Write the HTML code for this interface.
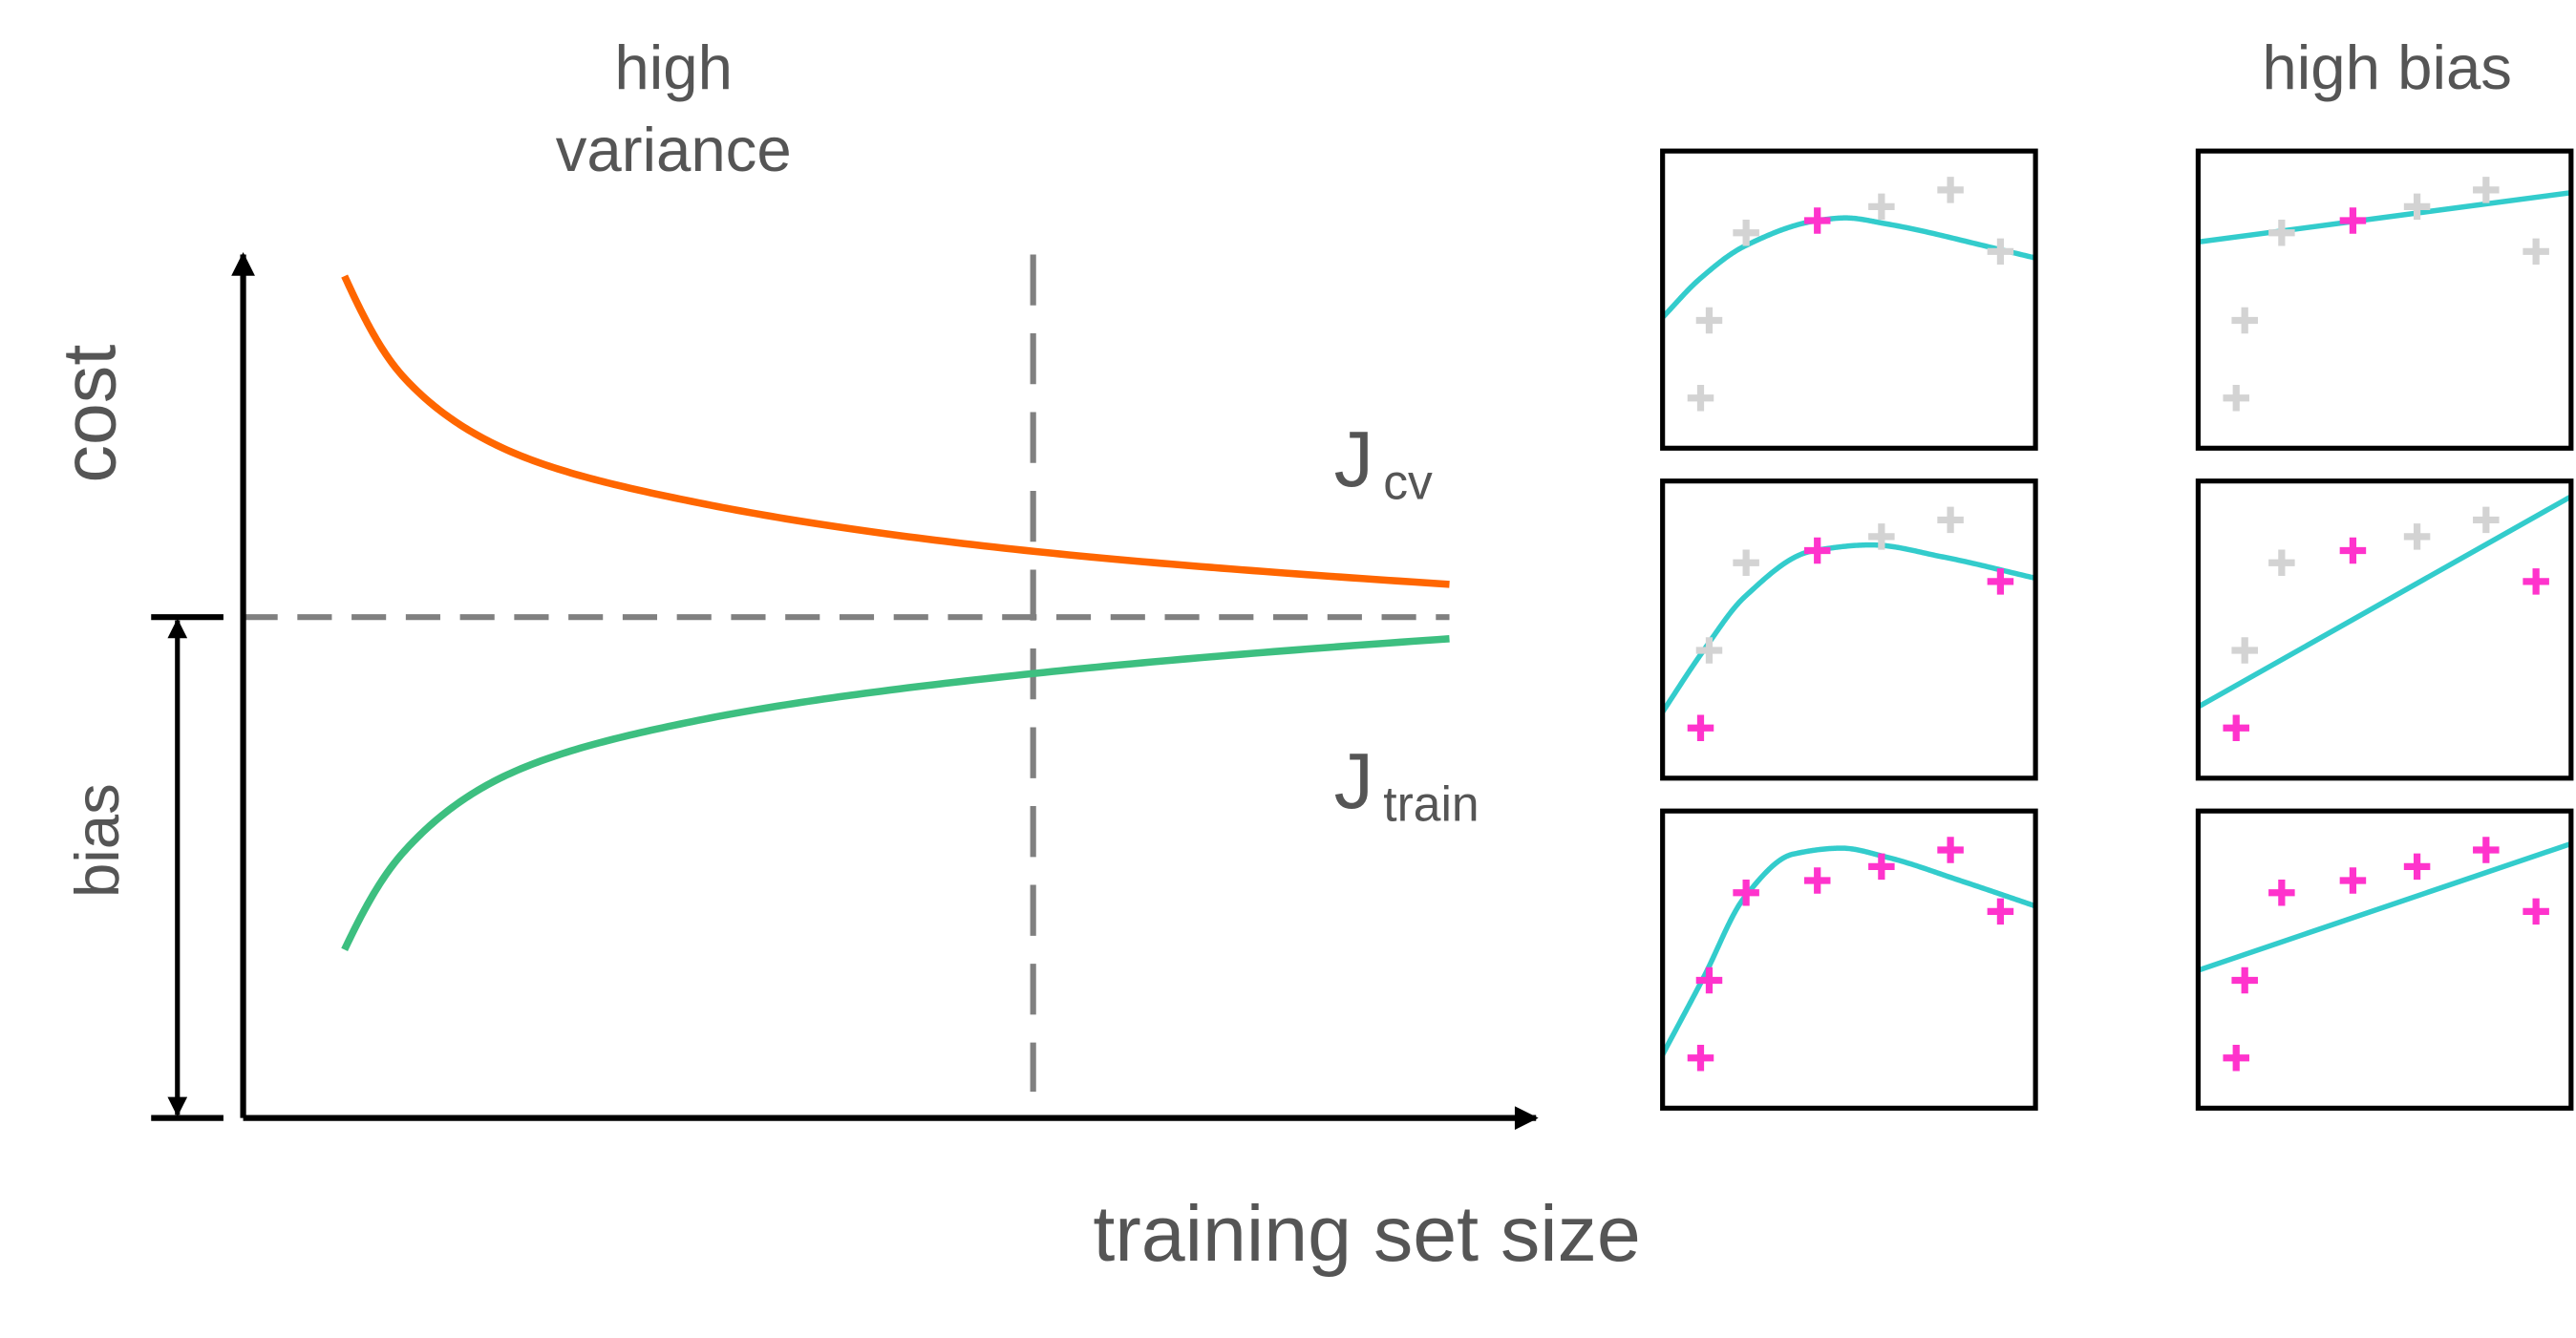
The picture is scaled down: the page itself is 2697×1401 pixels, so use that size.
<!DOCTYPE html>
<html><head><meta charset="utf-8"><style>
html,body{margin:0;padding:0;background:#fff;}
svg{display:block;}
text{font-family:"Liberation Sans",sans-serif;fill:#555;}
</style></head><body>
<svg id="chart" width="2697" height="1401" viewBox="0 0 1568 815" preserveAspectRatio="none" xmlns="http://www.w3.org/2000/svg">
<defs>
<marker id="ah" viewBox="0 0 10 10" refX="9" refY="5" markerWidth="7" markerHeight="4" orient="auto-start-reverse"><path d="M0,0 L10,5 L0,10 z" fill="#000"/></marker>
</defs>
<g id="main"></g>
<g id="panels"></g>
<text x="410" y="54" font-size="38" text-anchor="middle">high</text>
<text x="410" y="104" font-size="38" text-anchor="middle">variance</text>
<text x="1453" y="54" font-size="38" text-anchor="middle">high bias</text>
<text transform="translate(70,252) rotate(-90)" font-size="46" text-anchor="middle">cost</text>
<text transform="translate(72,512) rotate(-90)" font-size="38" text-anchor="middle">bias</text>
<text x="832" y="768" font-size="48" text-anchor="middle">training set size</text>
<text x="812" y="296" font-size="48">J<tspan font-size="30" dx="6" dy="8">cv</tspan></text>
<text x="812" y="492" font-size="48">J<tspan font-size="30" dx="6" dy="8">train</tspan></text>
</svg>
<script>
const xs = [7.84, 12.35, 20.65, 35.7, 61.3, 93.3];
const cvCost = [97.5, 85.9, 77.2, 71.1, 65.6, 61.8];
const trainCost = [19.5, 30.7, 39.9, 46.2, 51.5, 55.5];
const biasLevel = 58.0;
const cutoffX = 61.1;

const ptX = [0.102, 0.125, 0.224, 0.415, 0.587, 0.772, 0.906];
const ptY = [0.831, 0.570, 0.275, 0.234, 0.187, 0.131, 0.338];
const magentaSets = [[3], [0, 3, 6], [0, 1, 2, 3, 4, 5, 6]];
const polyX = [[0, 0.1, 0.22, 0.415, 0.49, 0.6, 0.9, 1], [0, 0.11, 0.22, 0.4, 0.56, 0.75, 1], [0, 0.11, 0.22, 0.35, 0.48, 0.6, 0.8, 1]];
const polyY = [[0.56, 0.43, 0.32, 0.234, 0.225, 0.245, 0.33, 0.36], [0.777, 0.57, 0.39, 0.236, 0.215, 0.255, 0.327], [0.82, 0.56, 0.29, 0.145, 0.125, 0.155, 0.235, 0.32]];
const linStart = [0.306, 0.76, 0.536];
const linEnd = [0.14, 0.052, 0.11];

const NS = "http://www.w3.org/2000/svg";
const X0 = 148, X1 = 935, Y0 = 681, Y1 = 155;
const sx = v => X0 + v * (X1 - X0) / 100;
const sy = v => Y0 - v * (Y0 - Y1) / 100;
function mk(tag, attrs, parent) { const e = document.createElementNS(NS, tag); for (const k in attrs) e.setAttribute(k, attrs[k]); parent.appendChild(e); return e; }
// monotone cubic interpolation in a transformed x space (tf / inverse itf)
function monoPath(Xraw, Y, fx, fy, tf, itf) {
  tf = tf || (v => v); itf = itf || (v => v);
  const X = Xraw.map(tf);
  const n = X.length, d = [], m = new Array(n);
  for (let i = 0; i < n - 1; i++) d.push((Y[i + 1] - Y[i]) / (X[i + 1] - X[i]));
  m[0] = d[0]; m[n - 1] = d[n - 2];
  for (let i = 1; i < n - 1; i++) {
    if (d[i - 1] * d[i] <= 0) m[i] = 0;
    else { const h0 = X[i] - X[i - 1], h1 = X[i + 1] - X[i]; const w1 = 2 * h1 + h0, w2 = h1 + 2 * h0; m[i] = (w1 + w2) / (w1 / d[i - 1] + w2 / d[i]); }
  }
  let s = "";
  for (let i = 0; i < n - 1; i++) {
    const h = X[i + 1] - X[i];
    for (let k = 0; k <= 40; k++) {
      if (i > 0 && k === 0) continue;
      const t = k / 40, t2 = t * t, t3 = t2 * t;
      const y = (2 * t3 - 3 * t2 + 1) * Y[i] + (t3 - 2 * t2 + t) * h * m[i] + (-2 * t3 + 3 * t2) * Y[i + 1] + (t3 - t2) * h * m[i + 1];
      const x = itf(X[i] + t * h);
      s += (s ? " L" : "M") + fx(x).toFixed(2) + "," + fy(y).toFixed(2);
    }
  }
  return s;
}
const main = document.getElementById("main");
let e;
e = mk("line", {x1: sx(0), y1: sy(biasLevel), x2: sx(93.3), y2: sy(biasLevel), stroke: "#808080", "stroke-width": 3.6, "stroke-dasharray": "21 12"}, main);


e = mk("line", {x1: sx(cutoffX), y1: 155, x2: sx(cutoffX), y2: 665, stroke: "#808080", "stroke-width": 3.6, "stroke-dasharray": "31 17"}, main);


e = mk("path", {d: monoPath(xs, cvCost, sx, sy, Math.log, Math.exp), fill: "none", stroke: "#FF6600", "stroke-width": 4.4, "stroke-linejoin": "round"}, main);


e = mk("path", {d: monoPath(xs, trainCost, sx, sy, Math.log, Math.exp), fill: "none", stroke: "#3DBF80", "stroke-width": 4.4, "stroke-linejoin": "round"}, main);


e = mk("line", {x1: X0, y1: Y0, x2: X0, y2: Y1, stroke: "#000", "stroke-width": 3.6, "marker-end": "url(#ah)"}, main);


e = mk("line", {x1: X0, y1: Y0, x2: X1, y2: Y0, stroke: "#000", "stroke-width": 3.6, "marker-end": "url(#ah)"}, main);


e = mk("line", {x1: 92, y1: sy(biasLevel), x2: 136, y2: sy(biasLevel), stroke: "#000", "stroke-width": 3.6}, main);


e = mk("line", {x1: 92, y1: Y0, x2: 136, y2: Y0, stroke: "#000", "stroke-width": 3.6}, main);


e = mk("line", {x1: 108, y1: sy(biasLevel) + 2, x2: 108, y2: Y0 - 2, stroke: "#000", "stroke-width": 3, "marker-start": "url(#ah)", "marker-end": "url(#ah)"}, main);



const panels = document.getElementById("panels");
const colX = [1012, 1338], rowY = [92, 293, 494], PW = 227, PH = 181;
for (let c = 0; c < 2; c++) for (let r = 0; r < 3; r++) {
  const g = mk("g", {}, panels);
  
  
  const px = colX[c], py = rowY[r];
  const fx = v => px + v * PW, fy = v => py + v * PH;
  const cid = "clip" + c + r;
  const cp = mk("clipPath", {id: cid}, g);
  mk("rect", {x: px, y: py, width: PW, height: PH}, cp);
  let path;
  if (c === 0) path = monoPath(polyX[r], polyY[r], fx, fy);
  else path = "M" + fx(0) + "," + fy(linStart[r]) + " L" + fx(1) + "," + fy(linEnd[r]);
  e = mk("path", {d: path, fill: "none", stroke: "#33CCCC", "stroke-width": 3.2, "stroke-linejoin": "round", "clip-path": "url(#" + cid + ")"}, g);
  
  
  ptX.forEach((x, i) => {
    const mag = magentaSets[r].includes(i);
    const cx = fx(x), cy = fy(ptY[i]);
    const p = mk("path", {d: `M${cx - 8},${cy} H${cx + 8} M${cx},${cy - 8} V${cy + 8}`, stroke: mag ? "#FF33CC" : "#D3D3D3", "stroke-width": 4.2}, g);
    
    
  });
  e = mk("rect", {x: px, y: py, width: PW, height: PH, fill: "none", stroke: "#000", "stroke-width": 3}, g);
  
  
}
</script>
</body></html>
